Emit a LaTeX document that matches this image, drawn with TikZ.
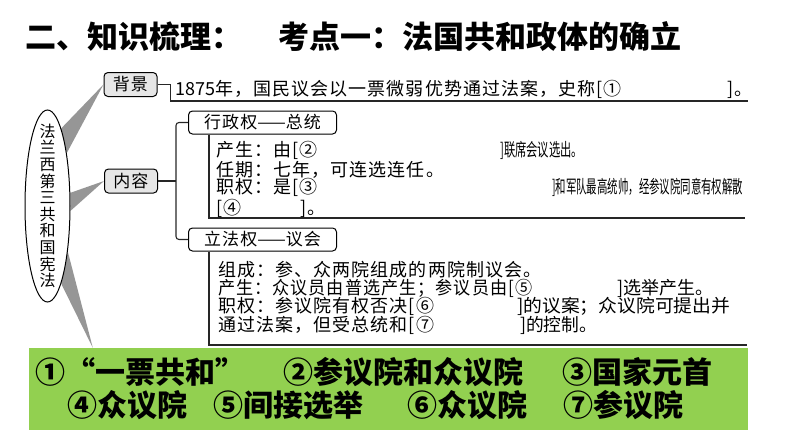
\documentclass[tikz,border=0pt]{standalone}
\usepackage{fontspec}
\newfontfamily\cjk{Noto Sans CJK SC}
\newfontfamily\cjkwide[LetterSpace=6]{Noto Sans CJK SC}
\usetikzlibrary{shapes.geometric,backgrounds}

\definecolor{answergreen}{RGB}{146,208,80}
\definecolor{spokegray}{RGB}{150,150,150}
\definecolor{tagfill}{RGB}{230,230,230}

% condensed piece of a line
\newcommand{\squeeze}[2]{\resizebox{#1}{\height}{\cjk #2}}

\tikzset{
  tag/.style={draw, rounded corners=4pt, fill=tagfill, line width=1pt,
    minimum width=53pt, minimum height=24pt, inner sep=0pt,
    font=\cjkwide\fontsize{17}{18}\selectfont},
  branch/.style={draw, rounded corners=4pt, fill=white, line width=1pt,
    minimum width=148pt, minimum height=23pt, inner sep=0pt,
    font=\cjkwide\fontsize{17}{18}\selectfont},
  txt/.style={anchor=west, inner sep=0pt, font=\cjkwide\fontsize{18}{18}\selectfont},
  link/.style={draw=black!85, line width=1.1pt},
  spoke/.style={fill=spokegray},
  ans/.style={anchor=west, inner sep=0pt, font=\cjk\bfseries\fontsize{30}{32}\selectfont},
}

\begin{document}
\begin{tikzpicture}[x=1pt,y=-1pt]
\useasboundingbox (0,0) rectangle (794,447);

    % Title
    \node[anchor=west, inner sep=0pt, font=\cjk\bfseries\fontsize{31}{34}\selectfont] (title) at (25,37)
      {二、知识梳理：\hspace{36pt}考点一：法国共和政体的确立};

    % Answer panel
    \node[fill=answergreen, minimum width=719pt, minimum height=82pt, inner sep=0pt] (panel) at (388.5,389) {};

    % Tags
    \node[tag] (bg) at (130.5,84.5) {背景};
    \node[tag] (ct) at (131,181) {内容};
    \node[branch] (exec) at (262.5,122.5) {行政权{\cjk ——}总统};
    \node[branch] (legis) at (262.5,239.5) {立法权{\cjk ——}议会};

    % Constitution
    \node[ellipse, draw, fill=white, line width=1pt, minimum width=45pt, minimum height=192pt, inner sep=0pt] (law) at (47.5,206) {};
    \node[font=\cjk\fontsize{16}{16.6}\selectfont, align=center, inner sep=0pt] (lawtext) at (law.center)
      {法\\兰\\西\\第\\三\\共\\和\\国\\宪\\法};

    \begin{scope}[on background layer]
    \fill[spoke] (law.70) -- (law.80) -- (bg.west) -- cycle;
    \fill[spoke] (law.30) -- (law.-12) -- (ct.west) -- cycle;
    \fill[spoke] (law.-66) -- (law.-80) -- ([xshift=64pt]panel.north west) -- cycle;
    \end{scope}

    % Brackets
    \coordinate (bgend) at (748,101);
    \draw[link] (bg.east) -- ++(13,0) |- (bgend);
    \coordinate (fork) at (176,181);
    \draw[link] (ct.east) -- (fork);
    \draw[link, rounded corners=3pt] (exec.west) -| (fork) |- (legis.west);
    \coordinate (execend) at (745,218);
    \coordinate (legisend) at (747,345);
    \draw[link] ([xshift=21pt]exec.south west) |- (execend);
    \draw[link] ([xshift=21pt]legis.south west) |- (legisend);

    % Background
    \node[txt] (bg1) at (175,89) {\makebox[552pt][l]{{\cjk 1875}年，国民议会以一票微弱优势通过法案，史称[①}]。};

    % Executive
    \node[txt] (ex1) at (216,150.5) {\makebox[284pt][l]{产生：由[②}\squeeze{83pt}{]联席会议选出。}};
    \node[txt] (ex2) at (216,169.5) {任期：七年，可连选连任。};
    \node[txt] (ex3) at (216,187.5) {\makebox[336pt][l]{职权：是[③}\squeeze{191pt}{]和军队最高统帅，经参议院同意有权解散}};
    \node[txt] (ex4) at (216,208) {\makebox[84pt][l]{[④}]。};

    % Legislative
    \node[txt] (lg1) at (218,269.5) {组成：参、众两院组成的两院制议会。};
    \node[txt] (lg2) at (218,288) {\makebox[399pt][l]{\resizebox{314pt}{\height}{产生：众议员由普选产生；参议员由[⑤}}\squeeze{96pt}{]选举产生。}};
    \node[txt] (lg3) at (218,306.5) {\makebox[299pt][l]{职权：参议院有权否决[⑥}\squeeze{213pt}{]的议案；众议院可提出并}};
    \node[txt] (lg4) at (218,325) {\makebox[302pt][l]{通过法案，但受总统和[⑦}\squeeze{77pt}{]的控制。}};

    % Answers
    \foreach \name/\x/\y/\t in {ans1/35/372/{①“一票共和”}, ans2/283/372/{②参议院和众议院},
        ans3/562/372/{③国家元首}, ans4/67/405/{④众议院}, ans5/213/405/{⑤间接选举},
        ans6/407/405/{⑥众议院}, ans7/563/405/{⑦参议院}}
    \node[ans] (\name) at (\x,\y) {\t};

\end{tikzpicture}
\end{document}
